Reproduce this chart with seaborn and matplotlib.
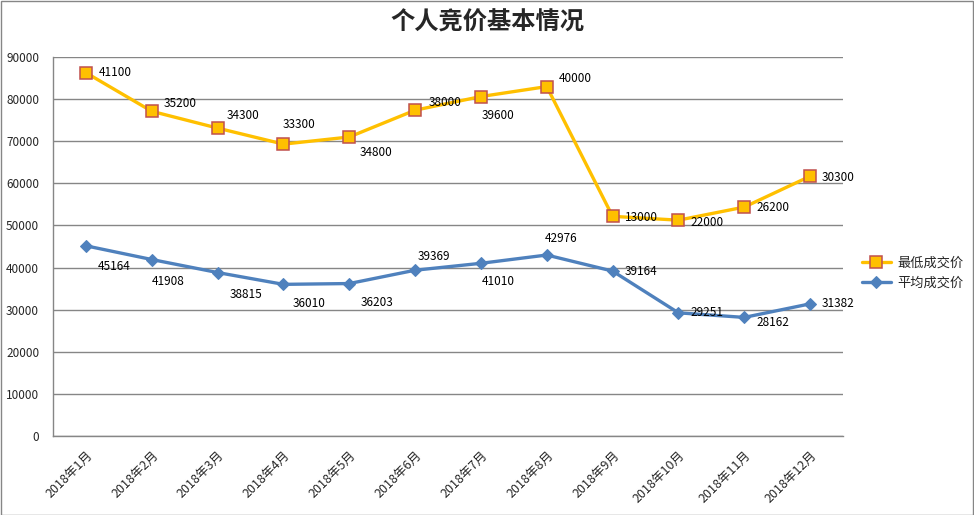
import matplotlib
matplotlib.use("Agg")
import matplotlib.pyplot as plt
import seaborn as sns
import numpy as np
import pandas as pd
from matplotlib.patches import Rectangle

months = ["2018年1月", "2018年2月", "2018年3月", "2018年4月", "2018年5月", "2018年6月",
          "2018年7月", "2018年8月", "2018年9月", "2018年10月", "2018年11月", "2018年12月"]
min_price = [41100, 35200, 34300, 33300, 34800, 38000, 39600, 40000, 13000, 22000, 26200, 30300]
avg_price = [45164, 41908, 38815, 36010, 36203, 39369, 41010, 42976, 39164, 29251, 28162, 31382]
series_names = ["最低成交价", "平均成交价"]
y_ticks = [0, 10000, 20000, 30000, 40000, 50000, 60000, 70000, 80000, 90000]
title = "个人竞价基本情况"

sns.set_theme(style="white")
plt.rcParams['font.family'] = ['Noto Sans CJK SC', 'DejaVu Sans']

x = np.arange(len(months))
avg = np.array(avg_price)
stacked_min = avg + np.array(min_price)  # Excel stacked line chart

df_avg = pd.DataFrame({"x": x, "y": avg})
df_min = pd.DataFrame({"x": x, "y": stacked_min})

fig = plt.figure(figsize=(9.74, 5.15), dpi=100)
ax = fig.add_axes([53/974, 1-436/515, 790/974, (436-57)/515])

yellow = "#FFC000"
blue = "#4F81BD"
sns.lineplot(data=df_min, x="x", y="y", ax=ax, color=yellow, lw=2.4, marker="s",
             markersize=8, markerfacecolor=yellow, markeredgecolor="#C0504D",
             markeredgewidth=1.1, label=series_names[0], zorder=4)
sns.lineplot(data=df_avg, x="x", y="y", ax=ax, color=blue, lw=2.4, marker="D",
             markersize=6, markerfacecolor=blue, markeredgecolor=blue,
             label=series_names[1], zorder=4)

ax.set_xlim(-0.5, len(months) - 0.5)
ax.set_ylim(0, 90000)
ax.set_yticks(y_ticks)
ax.set_yticklabels([str(v) for v in y_ticks], fontsize=8.5)
ax.set_xticks(x)
ax.set_xticklabels(months, fontsize=9, rotation=45, ha="right", rotation_mode="anchor")
ax.tick_params(axis="x", length=0, pad=9)
ax.tick_params(axis="y", length=0, pad=10)
ax.set_xlabel("")
ax.set_ylabel("")
ax.yaxis.grid(True, color="#868686", lw=1.0)
ax.set_axisbelow(True)
for s in ["top", "right"]:
    ax.spines[s].set_visible(False)
for s in ["left", "bottom"]:
    ax.spines[s].set_color("#868686")
    ax.spines[s].set_linewidth(1.0)

# data label offsets in pixels (dx, dy up)
min_off = [(13, 0), (12, 8), (9, 13), (-1, 20), (10, -16), (14, 8), (1, -19), (12, 8),
           (12, -1), (12, -2), (12, 0), (12, -1)]
avg_off = [(12, -21), (0, -22), (12, -22), (9, -19), (11, -19), (3, 14), (1, -18), (-2, 17),
           (12, 0), (12, 0), (12, -5), (12, 0)]
for i in range(len(months)):
    ax.annotate(str(min_price[i]), (x[i], stacked_min[i]),
                xytext=(min_off[i][0]*0.72, min_off[i][1]*0.72), textcoords="offset points",
                ha="left", va="center", fontsize=8.5, color="black", zorder=5)
    ax.annotate(str(avg_price[i]), (x[i], avg[i]),
                xytext=(avg_off[i][0]*0.72, avg_off[i][1]*0.72), textcoords="offset points",
                ha="left", va="center", fontsize=8.5, color="black", zorder=5)

leg = ax.legend(loc="center left", bbox_to_anchor=(850/974, 1-273/515),
                bbox_transform=fig.transFigure, frameon=False, fontsize=9.5,
                handlelength=2.2, labelspacing=0.5, handletextpad=0.5)

fig.text(487/974, 1-23/515, title, ha="center", va="center", fontsize=17.5, fontweight="bold")

fig.patches.append(Rectangle((0.5/974, 0), 1-1.5/974, 1-0.5/515, transform=fig.transFigure,
                             fill=False, edgecolor="#868686", lw=1.0))

fig.savefig("out.png", dpi=100)
